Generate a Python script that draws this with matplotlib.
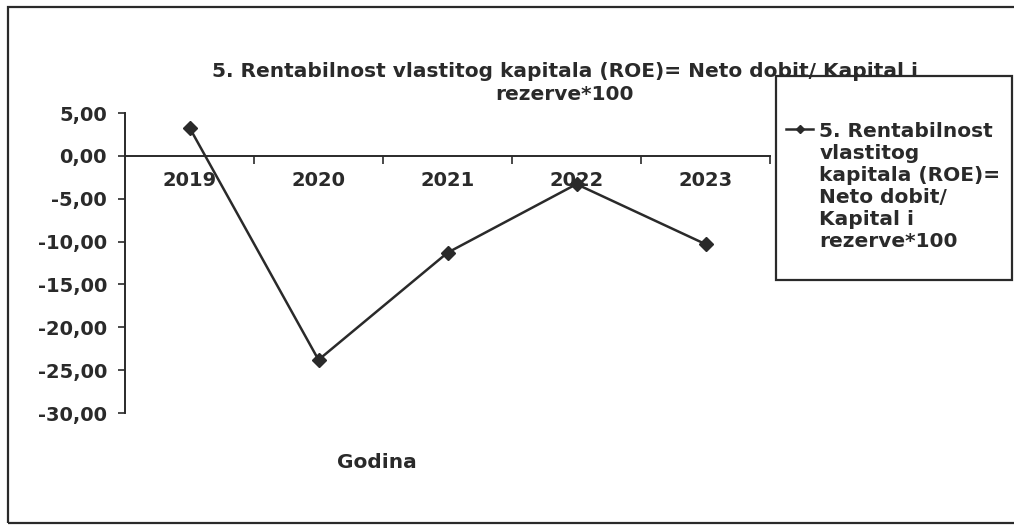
import matplotlib.pyplot as plt
from matplotlib.patches import Rectangle

# data
years = ['2019', '2020', '2021', '2022', '2023']
roe = [3.3, -23.8, -11.3, -3.3, -10.3]
yticks = [5, 0, -5, -10, -15, -20, -25, -30]
title = '5. Rentabilnost vlastitog kapitala (ROE)= Neto dobit/ Kapital i\nrezerve*100'
series_label = '5. Rentabilnost\nvlastitog\nkapitala (ROE)=\nNeto dobit/\nKapital i\nrezerve*100'
xlabel = 'Godina'

W, H = 1014, 526
plt.rcParams['font.family'] = 'DejaVu Sans'
plt.rcParams['font.weight'] = 'bold'
ink = '#2a2a2a'

fig = plt.figure(figsize=(W / 100, H / 100), dpi=100)

# outer chart frame and legend frame (pixel coords -> figure fraction)
fig.patches.append(Rectangle((8 / W, 3 / H), 1.2, (523 - 7) / H, transform=fig.transFigure,
                             fill=False, lw=1.6, edgecolor=ink))
fig.patches.append(Rectangle((776 / W, 1 - 280 / H), 236 / W, 204 / H, transform=fig.transFigure,
                             fill=False, lw=1.6, edgecolor=ink))

ax = fig.add_axes([125 / W, 1 - 413 / H, (770 - 125) / W, 300 / H])
x = list(range(len(years)))
ax.plot(x, roe, color=ink, lw=1.8, marker='D', markersize=7, label=series_label)

ax.set_xlim(-0.5, len(years) - 0.5)
ax.set_ylim(-30, 5)
ax.set_yticks(yticks)
ax.set_yticklabels([f'{v:.2f}'.replace('.', ',') for v in yticks])
ax.set_xticks(x)
ax.set_xticklabels(years)
ax.set_xticks([i + 0.5 for i in x], minor=True)

for s in ['top', 'right']:
    ax.spines[s].set_visible(False)
ax.spines['bottom'].set_position(('data', 0))
for s in ['left', 'bottom']:
    ax.spines[s].set_color(ink)
    ax.spines[s].set_linewidth(1.4)

ax.tick_params(axis='x', which='major', length=0, pad=11, labelsize=14, colors=ink)
ax.tick_params(axis='x', which='minor', length=6, width=1.2, direction='out', colors=ink)
ax.tick_params(axis='y', length=5, width=1.2, direction='out', pad=8, labelsize=14, colors=ink)

fig.text(0.557, 1 - 83 / H, title, ha='center', va='center', fontsize=14.5,
         linespacing=1.3, color=ink)
fig.text(377 / W, 1 - 463 / H, xlabel, ha='center', va='center', fontsize=14.5, color=ink)

leg = ax.legend(loc='upper left', bbox_to_anchor=(786 / W, 1 - 122 / H), bbox_transform=fig.transFigure,
                frameon=False, handlelength=1.35, handletextpad=0.3, borderpad=0, borderaxespad=0,
                fontsize=14.5, markerscale=0.65)
for t in leg.get_texts():
    t.set_linespacing(1.2)
    t.set_color(ink)
for col in leg._legend_handle_box.get_children():
    for item in col.get_children():
        item.align = 'top'

fig.savefig('out.png', dpi=100)
